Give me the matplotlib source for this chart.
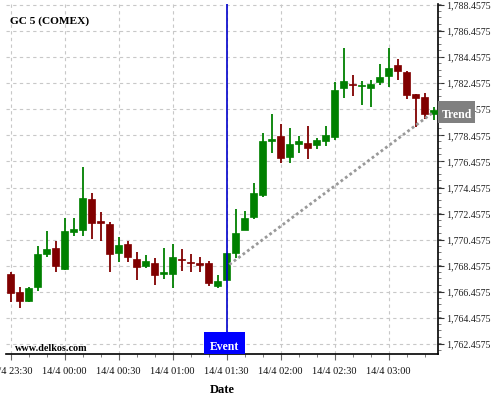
import matplotlib
matplotlib.use("Agg")
import matplotlib.pyplot as plt
from matplotlib.patches import Rectangle
from matplotlib.ticker import FixedLocator, MultipleLocator, FuncFormatter
import matplotlib.transforms as mtransforms

plt.rcParams['font.family'] = ['Liberation Serif', 'DejaVu Serif']

# minutes after 14/4 23:30 (5-minute candles)
minutes = [i * 5 for i in range(48)]
opens = [1767.84, 1766.46, 1765.79, 1766.79, 1769.33, 1769.84, 1768.17, 1771.02,
         1771.18, 1773.61, 1771.86, 1771.69, 1769.40, 1770.15, 1769.00, 1768.41,
         1768.69, 1767.79, 1767.86, 1769.00, 1768.74, 1768.69, 1768.69, 1766.87,
         1767.33, 1769.46, 1771.18, 1772.18, 1773.87, 1777.99, 1778.38, 1776.79,
         1777.79, 1777.84, 1777.69, 1778.00, 1778.33, 1782.10, 1782.38, 1782.23,
         1782.10, 1782.56, 1783.02, 1783.84, 1783.34, 1781.64, 1781.41, 1780.12]
closes = [1766.40, 1765.79, 1766.76, 1769.38, 1769.77, 1768.41, 1771.15, 1771.30,
          1773.69, 1771.71, 1771.71, 1769.33, 1770.07, 1769.10, 1768.33, 1768.84,
          1767.71, 1767.99, 1769.15, 1768.87, 1768.69, 1768.53, 1767.10, 1767.30,
          1769.46, 1770.99, 1772.15, 1774.00, 1777.99, 1778.15, 1776.71, 1777.76,
          1777.99, 1777.48, 1778.07, 1778.46, 1781.92, 1782.61, 1782.30, 1782.30,
          1782.38, 1782.92, 1783.61, 1783.41, 1781.56, 1781.35, 1780.07, 1780.41]
highs = [1768.00, 1766.84, 1766.80, 1769.97, 1771.15, 1770.38, 1772.13, 1772.13,
         1776.05, 1774.00, 1772.61, 1771.84, 1770.66, 1770.36, 1769.49, 1769.28,
         1769.05, 1769.82, 1770.10, 1769.77, 1769.36, 1769.10, 1768.82, 1767.74,
         1769.46, 1772.84, 1772.66, 1774.82, 1778.60, 1780.07, 1779.36, 1779.05,
         1778.44, 1779.15, 1778.28, 1779.15, 1782.56, 1785.13, 1783.05, 1782.61,
         1782.69, 1783.90, 1785.13, 1784.28, 1783.41, 1781.64, 1781.71, 1780.64]
lows = [1765.71, 1765.20, 1765.71, 1766.51, 1769.10, 1767.97, 1768.10, 1770.71,
        1770.74, 1770.51, 1770.38, 1767.97, 1768.71, 1768.74, 1767.38, 1768.30,
        1766.97, 1767.43, 1766.76, 1768.07, 1767.94, 1767.94, 1766.94, 1766.74,
        1767.33, 1769.07, 1771.18, 1772.05, 1773.76, 1777.10, 1776.30, 1776.35,
        1777.10, 1776.64, 1777.43, 1777.66, 1778.07, 1781.30, 1781.50, 1780.82,
        1780.66, 1782.30, 1782.18, 1782.69, 1781.23, 1779.07, 1779.69, 1779.61]

tick_minutes = [0, 30, 60, 90, 120, 150, 180, 210]
tick_labels = ["14/4 23:30", "14/4 00:00", "14/4 00:30", "14/4 01:00",
               "14/4 01:30", "14/4 02:00", "14/4 02:30", "14/4 03:00"]
price_ticks = [1762.4575 + 2 * k for k in range(14)]

event_minute = 120
trend_x = [121.5, 235]
trend_y = [1768.55, 1780.25]

GREEN = "#008000"
RED = "#800000"

fig = plt.figure(figsize=(5, 4), dpi=100)
ax = fig.add_axes([0.012, 0.115, 0.864, 0.875])

ax.set_xlim(-2.6, 237.4)
ax.set_ylim(1761.69, 1788.53)

ax.grid(True, which='major', color='#c8c8c8', linestyle=(0, (3, 3)), linewidth=0.8)
ax.set_axisbelow(True)

body_w = 3.7
for m, o, c, h, l in zip(minutes, opens, closes, highs, lows):
    col = GREEN if c >= o else RED
    ax.vlines(m, l, h, color=col, linewidth=1.3, zorder=3)
    bot = min(o, c)
    height = max(abs(c - o), 0.08)
    ax.add_patch(Rectangle((m - body_w / 2, bot), body_w, height,
                           facecolor=col, edgecolor=col, linewidth=0.5, zorder=4))

# trend line
ax.plot(trend_x, trend_y, color='#999999', linestyle=(0, (1, 1)), linewidth=2.0, zorder=5)

# event line
ax.axvline(event_minute, color='#0000cc', linewidth=1.2, zorder=6)

# spines
ax.spines['left'].set_visible(False)
ax.spines['top'].set_visible(False)
ax.spines['right'].set_linewidth(1.2)
ax.spines['bottom'].set_linewidth(1.2)

# y axis on right
ax.yaxis.tick_right()
ax.yaxis.set_label_position('right')
ax.yaxis.set_major_locator(FixedLocator(price_ticks))
ax.yaxis.set_minor_locator(MultipleLocator(0.5))
ax.yaxis.set_major_formatter(FuncFormatter(lambda v, p: f"{v:,.4f}"))
ax.tick_params(axis='y', which='major', length=4, width=0.8, labelsize=7.2, pad=1.5, colors='#333333', labelcolor='#222222')
ax.tick_params(axis='y', which='minor', length=2, width=0.6, colors='#666666')

ax.xaxis.set_major_locator(FixedLocator(tick_minutes))
ax.set_xticklabels(tick_labels)
ax.xaxis.set_minor_locator(MultipleLocator(10))
ax.tick_params(axis='x', which='major', length=4, width=0.8, labelsize=7.4, pad=5, colors='#666666', labelcolor='#111111')
ax.tick_params(axis='x', which='minor', length=2, width=0.6, colors='#666666')
ax.set_xlabel("Date", fontsize=9, fontweight='bold', labelpad=6)

# Event label box
blend = mtransforms.blended_transform_factory(ax.transData, ax.transAxes)
ax.add_patch(Rectangle((107.4, 0), 22.8, 0.063, transform=blend,
                       facecolor='#0000ff', edgecolor='none', zorder=7, clip_on=False))
ax.text(118.8, 0.02, "Event", transform=blend, color='white', fontsize=8.5,
        fontweight='bold', ha='center', va='center', zorder=8)

# Trend label box at right axis
fig.patches.append(Rectangle((0.876, 0.693), 0.074, 0.0545, transform=fig.transFigure,
                             facecolor='#808080', edgecolor='none', zorder=10))
fig.text(0.913, 0.713, "Trend", color='white', fontsize=8.5, fontweight='bold',
         ha='center', va='center', zorder=11)

# title and watermark
fig.text(0.02, 0.948, "GC 5 (COMEX)", fontsize=8.2, fontweight='bold', ha='left', va='center')
fig.text(0.03, 0.128, "www.delkos.com", fontsize=7.3, fontweight='bold', ha='left', va='center')

fig.savefig("out.png", dpi=100)
